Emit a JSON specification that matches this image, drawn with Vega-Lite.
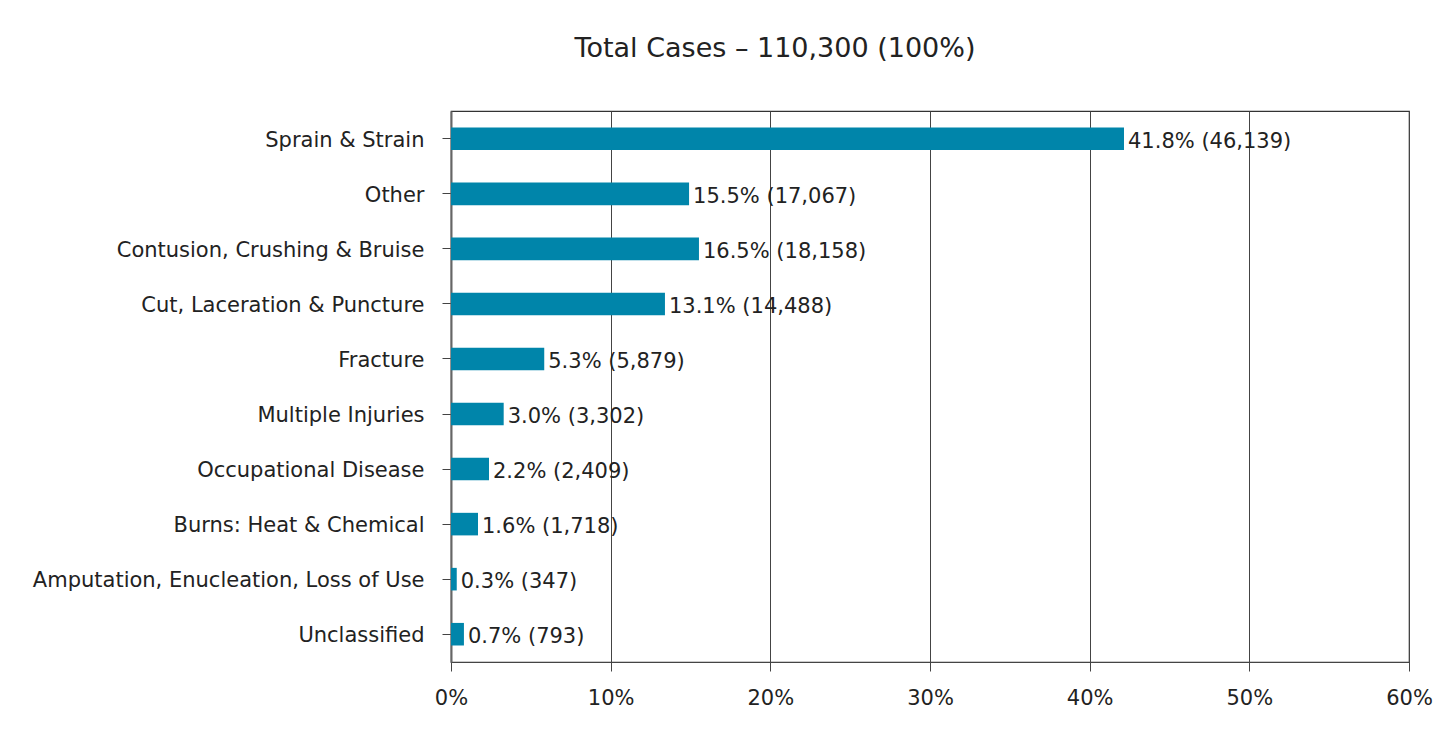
{
  "$schema": "https://vega.github.io/schema/vega-lite/v6.json",
  "autosize": "none",
  "width": 958,
  "height": 551,
  "padding": {"left": 451, "top": 111, "right": 42, "bottom": 67},
  "background": "white",
  "title": {
    "text": "Total Cases – 110,300 (100%)",
    "fontSize": 27,
    "font": "DejaVu Sans",
    "fontWeight": "normal",
    "color": "#222222",
    "anchor": "middle",
    "dx": -155,
    "offset": 48
  },
  "data": {
    "values": [
      {"category": "Sprain & Strain", "pct": 42.15, "label": "41.8% (46,139)"},
      {"category": "Other", "pct": 14.91, "label": "15.5% (17,067)"},
      {"category": "Contusion, Crushing & Bruise", "pct": 15.53, "label": "16.5% (18,158)"},
      {"category": "Cut, Laceration & Puncture", "pct": 13.4, "label": "13.1% (14,488)"},
      {"category": "Fracture", "pct": 5.84, "label": "5.3% (5,879)"},
      {"category": "Multiple Injuries", "pct": 3.3, "label": "3.0% (3,302)"},
      {"category": "Occupational Disease", "pct": 2.38, "label": "2.2% (2,409)"},
      {"category": "Burns: Heat & Chemical", "pct": 1.69, "label": "1.6% (1,718)"},
      {"category": "Amputation, Enucleation, Loss of Use", "pct": 0.36, "label": "0.3% (347)"},
      {"category": "Unclassified", "pct": 0.81, "label": "0.7% (793)"}
    ]
  },
  "encoding": {
    "y": {
      "field": "category",
      "type": "nominal",
      "sort": null,
      "scale": {"paddingInner": 0.59, "paddingOuter": 0.3},
      "axis": {
        "title": null,
        "labelFont": "DejaVu Sans",
        "labelFontSize": 21,
        "labelColor": "#222222",
        "labelPadding": 18,
        "labelOffset": 2,
        "tickSize": 9,
        "tickColor": "#444444",
        "domainColor": "#666666",
        "domainWidth": 2,
        "labelLimit": 500
      }
    },
    "x": {
      "field": "pct",
      "type": "quantitative",
      "scale": {"domain": [0, 60], "nice": false},
      "axis": {
        "title": null,
        "values": [0, 10, 20, 30, 40, 50, 60],
        "labelExpr": "datum.value + '%'",
        "labelFlush": false,
        "labelFont": "DejaVu Sans",
        "labelFontSize": 21,
        "labelColor": "#222222",
        "labelPadding": 16,
        "tickSize": 9,
        "tickColor": "#444444",
        "domainColor": "#444444",
        "grid": true,
        "gridColor": "#444444",
        "gridWidth": 1,
        "gridOpacity": 1
      }
    }
  },
  "layer": [
    {"mark": {"type": "bar", "color": "#0085AA"}},
    {
      "mark": {
        "type": "text",
        "align": "left",
        "baseline": "middle",
        "dx": 4,
        "dy": 3,
        "font": "DejaVu Sans",
        "fontSize": 21,
        "color": "#222222"
      },
      "encoding": {"text": {"field": "label"}}
    }
  ],
  "config": {
    "view": {"stroke": "#333333", "strokeWidth": 1.2}
  }
}
